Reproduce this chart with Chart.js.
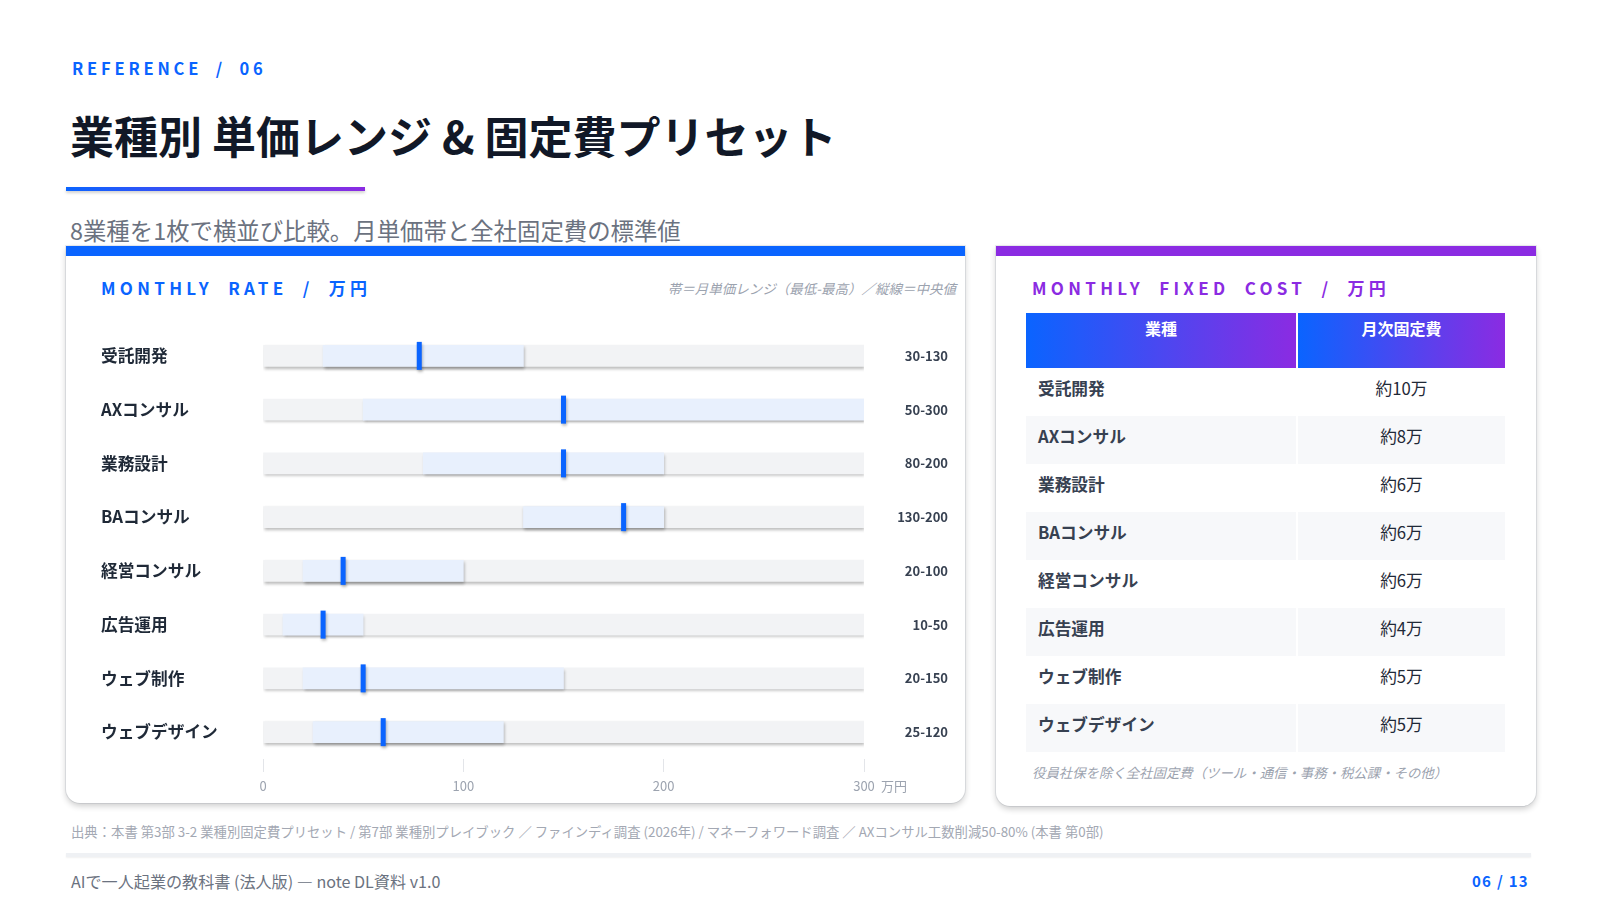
<!DOCTYPE html>
<html lang="ja">
<head>
<meta charset="utf-8">
<script src="https://cdn.jsdelivr.net/npm/chart.js@4.4.1/dist/chart.umd.min.js"></script>
<style>
  body { margin: 0; width: 1600px; height: 900px; background: #fff; font-family: "Noto Sans CJK JP", "Noto Sans", sans-serif; position: relative; overflow: hidden; }
  .abs { position: absolute; line-height: 1; white-space: nowrap; }
  .kicker { left: 72px; top: 60px; font-size: 16.5px; font-weight: 700; color: #0a64ff; letter-spacing: 3.8px; word-spacing: 6px; }
  .title { left: 70px; top: 113px; font-size: 44px; font-weight: 700; color: #111827; }
  .underline { position: absolute; left: 66px; top: 187px; width: 299px; height: 4px; background: linear-gradient(90deg, #0a64ff, #8b2be2); box-shadow: 0 2px 3px rgba(0,0,0,0.18); }
  .subtitle { left: 70px; top: 219px; font-size: 23.4px; color: #6b7280; }
  .card { position: absolute; top: 246px; height: 547px; background: #fff; border-top: 10px solid #0a64ff; border-radius: 0 0 14px 14px; box-shadow: 0 3px 6px rgba(0,0,0,0.2), 0 0 0 1px #eceef1; }
  .card.left { left: 66px; width: 899px; }
  .card.right { left: 996px; width: 540px; height: 550px; border-top-color: #8b2be2; }
  .panel-title { top: 279px; font-size: 17px; font-weight: 700; letter-spacing: 4.3px; word-spacing: 7px; }
  .note { top: 282px; right: 644px; font-size: 13.5px; font-style: italic; color: #9ca3af; }
  #chartBox { position: absolute; left: 90px; top: 310px; width: 870px; height: 490px; }
  .unit { left: 881px; top: 779px; font-size: 13px; color: #9ca3af; }
  table { position: absolute; left: 1024px; top: 313px; width: 483px; border-collapse: separate; border-spacing: 2px 0; }
  th { height: 55px; padding: 6px 0 0; vertical-align: top; color: #fff; font-size: 16px; font-weight: 700; background: linear-gradient(90deg, #0a64ff, #8b2be2); line-height: 19px; box-sizing: border-box; }
  th:first-child { width: 270px; }
  td { height: 48px; padding: 10px 0 0; vertical-align: top; font-size: 16.7px; line-height: 20px; color: #1f2937; box-sizing: border-box; }
  td:first-child { padding-left: 12px; font-weight: 700; color: #374151; }
  td:last-child { text-align: center; }
  tr:nth-child(even) td { background: #f7f8fa; }
  .tnote { left: 1032px; top: 766px; font-size: 13.4px; font-style: italic; color: #9ca3af; }
  .source { left: 71px; top: 825px; font-size: 13.35px; color: #a3a8b3; }
  .divider { position: absolute; left: 66px; top: 853px; width: 1465px; height: 4px; background: #eff1f4; box-shadow: 0 1px 2px rgba(0,0,0,0.06); }
  .foot { left: 71px; top: 873px; font-size: 16.1px; color: #6b7280; }
  .page { right: 71px; top: 873px; font-size: 15px; font-weight: 700; color: #0a64ff; letter-spacing: 1.3px; }
</style>
</head>
<body>
<div class="abs kicker">REFERENCE / 06</div>
<div class="abs title">業種別 単価レンジ &amp; 固定費プリセット</div>
<div class="underline"></div>
<div class="abs subtitle">8業種を1枚で横並び比較。月単価帯と全社固定費の標準値</div>

<div class="card left"></div>
<div class="card right"></div>

<div class="abs panel-title" style="left:101px;color:#0a64ff;">MONTHLY RATE / 万円</div>
<div class="abs note">帯＝月単価レンジ（最低-最高）／縦線＝中央値</div>
<div id="chartBox"><canvas id="rateChart"></canvas></div>
<div class="abs unit">万円</div>

<div class="abs panel-title" style="left:1032px;color:#8b2be2;">MONTHLY FIXED COST / 万円</div>
<table id="costTable">
  <thead><tr><th>業種</th><th>月次固定費</th></tr></thead>
  <tbody></tbody>
</table>
<div class="abs tnote">役員社保を除く全社固定費（ツール・通信・事務・税公課・その他）</div>

<div class="abs source">出典：本書 第3部 3-2 業種別固定費プリセット / 第7部 業種別プレイブック ／ ファインディ調査 (2026年) / マネーフォワード調査 ／ AXコンサル工数削減50-80% (本書 第0部)</div>
<div class="divider"></div>
<div class="abs foot">AIで一人起業の教科書 (法人版) — note DL資料 v1.0</div>
<div class="abs page">06 / 13</div>

<script>
const categories = ["受託開発", "AXコンサル", "業務設計", "BAコンサル", "経営コンサル", "広告運用", "ウェブ制作", "ウェブデザイン"];
const rateLow = [30, 50, 80, 130, 20, 10, 20, 25];
const rateHigh = [130, 300, 200, 200, 100, 50, 150, 120];
const rateMid = [78, 150, 150, 180, 40, 30, 50, 60];
const fixedCost = [10, 8, 6, 6, 6, 4, 5, 5];
const axisTicks = [0, 100, 200, 300];

const axisMax = axisTicks[axisTicks.length - 1];
const rangeLabels = categories.map((c, i) => rateLow[i] + "-" + rateHigh[i]);

Chart.defaults.font.family = '"Noto Sans CJK JP", "Noto Sans", sans-serif';

function fillTable() {
  const body = document.querySelector("#costTable tbody");
  categories.forEach((name, i) => {
    const tr = document.createElement("tr");
    const td1 = document.createElement("td");
    const td2 = document.createElement("td");
    td1.textContent = name;
    td2.textContent = "約" + fixedCost[i] + "万";
    tr.appendChild(td1);
    tr.appendChild(td2);
    body.appendChild(tr);
  });
}

// soft drop shadow under every bar and marker
const barShadow = {
  id: "barShadow",
  beforeDatasetDraw(chart) {
    const ctx = chart.ctx;
    ctx.save();
    ctx.shadowColor = "rgba(0,0,0,0.28)";
    ctx.shadowBlur = 3;
    ctx.shadowOffsetX = 1;
    ctx.shadowOffsetY = 2;
  },
  afterDatasetDraw(chart) {
    chart.ctx.restore();
  }
};

function rateChart() {
  const data = {
    labels: categories,
    datasets: [
      {
        type: "line",
        indexAxis: "y",
        data: rateMid,
        showLine: false,
        pointStyle: "line",
        rotation: 90,
        radius: 14,
        hoverRadius: 14,
        borderWidth: 5,
        borderColor: "#0a64ff",
        backgroundColor: "#0a64ff",
        order: 0
      },
      {
        type: "bar",
        data: categories.map((c, i) => [rateLow[i], rateHigh[i]]),
        backgroundColor: "#e8f0fd",
        barThickness: 21,
        grouped: false,
        order: 1
      },
      {
        type: "bar",
        data: categories.map(() => [0, axisMax]),
        backgroundColor: "#f2f3f5",
        barThickness: 21,
        grouped: false,
        order: 2
      }
    ]
  };

  const config = {
    type: "bar",
    data: data,
    plugins: [barShadow],
    options: {
      indexAxis: "y",
      responsive: true,
      maintainAspectRatio: false,
      animation: false,
      layout: { padding: { left: 11, right: 12, top: 10, bottom: 0 } },
      plugins: { legend: { display: false }, tooltip: { enabled: false } },
      scales: {
        x: {
          min: 0,
          max: axisMax,
          afterBuildTicks: (scale) => {
            scale.ticks = axisTicks.map((v) => ({ value: v }));
          },
          grid: { drawOnChartArea: false, drawTicks: true, tickLength: 13, color: "#e3e5e9" },
          border: { display: false },
          ticks: { color: "#9ca3af", font: { size: 13 }, padding: 6 },
          afterFit: (scale) => { scale.height = 41; }
        },
        y: {
          position: "left",
          grid: { display: false },
          border: { display: false },
          ticks: { crossAlign: "far", color: "#1f2937", font: { size: 16.7, weight: "bold" } },
          afterFit: (scale) => { scale.width = 162; }
        },
        y2: {
          type: "category",
          position: "right",
          labels: rangeLabels,
          offset: true,
          grid: { display: false },
          border: { display: false },
          ticks: { crossAlign: "far", color: "#374151", font: { size: 13, weight: "bold" } },
          afterFit: (scale) => { scale.width = 84; }
        }
      }
    }
  };

  new Chart(document.getElementById("rateChart"), config);
}

fillTable();
rateChart();
</script>
</body>
</html>
